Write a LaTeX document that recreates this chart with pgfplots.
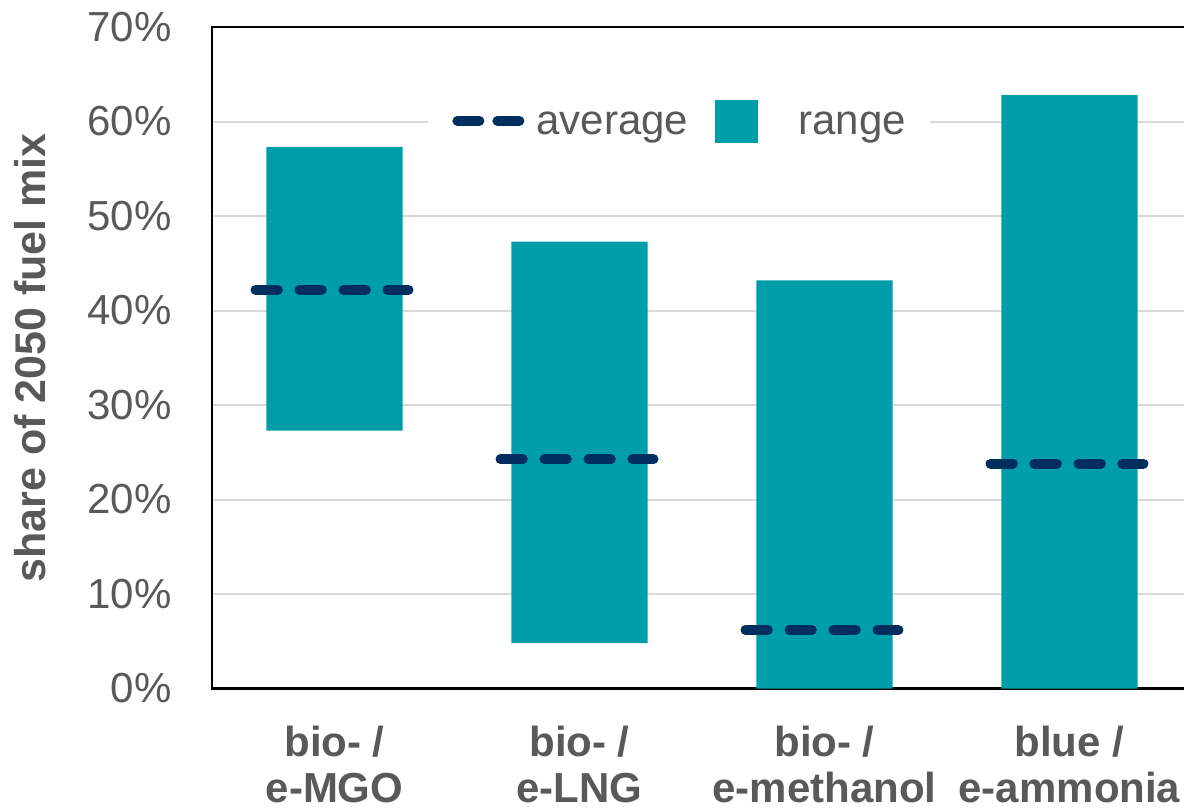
\documentclass[border=0pt]{standalone}
\usepackage{fontspec}
\setmainfont{Liberation Sans}
\usepackage{pgfplots}
\pgfplotsset{compat=1.18}
\definecolor{barteal}{HTML}{009EA8}
\definecolor{navyd}{HTML}{002F5F}
\definecolor{txtgray}{HTML}{595959}
\definecolor{gridgray}{HTML}{D9D9D9}
\pgfplotsset{layers/mylayers/.define layer set={axis background,axis grid,main,axis ticks,axis lines,axis tick labels,axis descriptions,axis foreground}{}}
\begin{document}
\begin{tikzpicture}
\begin{axis}[
  name=ax,
  set layers=mylayers,
  width=490pt, height=330.75pt, scale only axis,
  xmin=-0.5, xmax=3.5, ymin=0, ymax=70,
  xtick={0,1,2,3},
  xticklabels={{bio- /\\e-MGO},{bio- /\\e-LNG},{bio- /\\e-methanol},{blue /\\e-ammonia}},
  ytick={0,10,...,70},
  yticklabels={0\%,10\%,20\%,30\%,40\%,50\%,60\%,70\%},
  major tick length=0pt,
  ymajorgrids, grid style={gridgray, line width=1pt},
  axis line style={black, line width=1.2pt},
  yticklabel style={font=\fontsize{21pt}{25pt}\selectfont, text=txtgray, anchor=east, inner sep=0pt, xshift=-20pt},
  xticklabel style={font=\fontsize{21pt}{23pt}\selectfont\bfseries, text=txtgray, align=center, anchor=north, inner sep=0pt, yshift=-18.5pt},
  ylabel={share of 2050 fuel mix},
  ylabel style={font=\fontsize{21.5pt}{25pt}\selectfont\bfseries, text=txtgray, at={(axis description cs:-0.1694,0.5)}, anchor=base},
  legend columns=2,
  legend style={at={(axis description cs:0.2204,0.858)}, anchor=west, draw=none, fill=white,
    inner xsep=12pt, inner ysep=4pt, font=\fontsize{21pt}{25pt}\selectfont,
    nodes={inner sep=0pt, text=txtgray, yshift=-2pt},
    /tikz/every odd column/.append style={column sep=6pt},
    /tikz/every even column/.append style={column sep=13.5pt}},
]
% range bars
\addplot[fill=barteal, draw=none, forget plot] coordinates {(-0.2776,27.3) (0.2776,27.3) (0.2776,57.3) (-0.2776,57.3) (-0.2776,27.3)};
\addplot[fill=barteal, draw=none, forget plot] coordinates {(0.7224,4.8) (1.2776,4.8) (1.2776,47.3) (0.7224,47.3) (0.7224,4.8)};
\addplot[fill=barteal, draw=none, forget plot] coordinates {(1.7224,0) (2.2776,0) (2.2776,43.2) (1.7224,43.2) (1.7224,0)};
\addplot[fill=barteal, draw=none, forget plot] coordinates {(2.7224,0) (3.2776,0) (3.2776,62.8) (2.7224,62.8) (2.7224,0)};
% averages
\addplot[navyd, line width=5pt, line cap=round, dash pattern=on 11.15pt off 10.85pt, forget plot] coordinates {(-0.3224,42.2) (0.3020,42.2)};
\addplot[navyd, line width=5pt, line cap=round, dash pattern=on 11.15pt off 10.85pt, forget plot] coordinates {(0.6776,24.25) (1.3020,24.25)};
\addplot[navyd, line width=5pt, line cap=round, dash pattern=on 11.15pt off 10.85pt, forget plot] coordinates {(1.6776,6.2) (2.3020,6.2)};
\addplot[navyd, line width=5pt, line cap=round, dash pattern=on 11.15pt off 10.85pt, forget plot] coordinates {(2.6776,23.8) (3.3020,23.8)};
% legend
\addlegendimage{legend image code/.code={\draw[navyd, line width=5pt, line cap=round, dash pattern=on 11pt off 9pt] (0pt,0pt) -- (31pt,0pt);}}
\addlegendentry{average}
\addlegendimage{legend image code/.code={\fill[barteal] (0pt,-10.5pt) rectangle (21pt,10.5pt); \path[draw=none,fill=none] (0pt,0pt) -- (35.5pt,0pt);}}
\addlegendentry{range\hspace{5pt}}
\end{axis}
\pgfresetboundingbox
\path[use as bounding box] ([xshift=-106pt,yshift=-61.25pt]ax.south west) rectangle ++(592pt,405.5pt);
\end{tikzpicture}
\end{document}
